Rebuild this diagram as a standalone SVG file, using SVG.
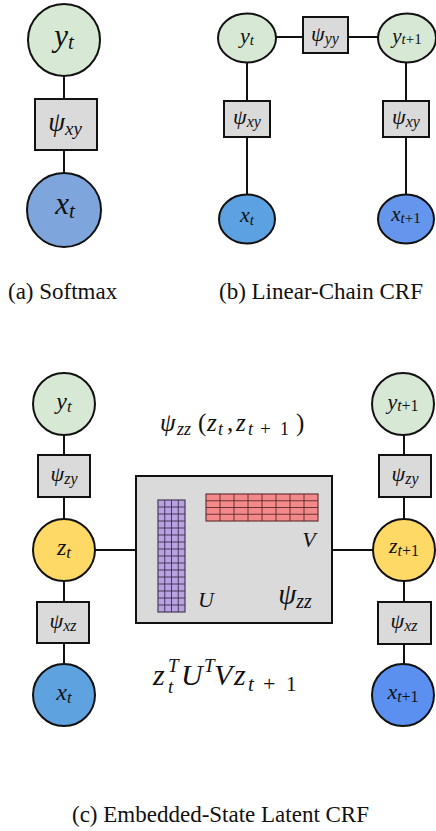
<svg xmlns="http://www.w3.org/2000/svg" width="436" height="831" viewBox="0 0 436 831">
  <style>
    .node { stroke: #111; stroke-width: 2; }
    .factor { fill: #dadada; stroke: #111; stroke-width: 2; }
    .edge { stroke: #111; stroke-width: 2; fill: none; }
    .y { fill: #d7e9d4; }
    .z { fill: #ffd966; }
    .math { font-family: "Liberation Serif", "DejaVu Serif", serif; font-style: italic; fill: #111; text-anchor: middle; }
    .ml { font-family: "Liberation Serif", "DejaVu Serif", serif; font-style: italic; fill: #111; }
    .rm { font-style: normal; }
    .cap { font-family: "Liberation Serif", "Times New Roman", serif; font-size: 23px; fill: #111; }
    .gridU { stroke: #3a2d4a; stroke-width: 0.9; }
    .gridV { stroke: #5a2a2a; stroke-width: 0.9; }
  </style>

  <!-- connectors -->
  <g id="edges">
    <!-- (a) softmax -->
    <line class="edge" x1="64" y1="76" x2="64" y2="99"/>
    <line class="edge" x1="64" y1="150" x2="64" y2="173"/>
    <!-- (b) linear-chain CRF -->
    <line class="edge" x1="276" y1="37" x2="303" y2="37"/>
    <line class="edge" x1="348" y1="37" x2="378" y2="37"/>
    <line class="edge" x1="247" y1="62" x2="247" y2="101"/>
    <line class="edge" x1="247" y1="137" x2="247" y2="195"/>
    <line class="edge" x1="406" y1="62" x2="406" y2="101"/>
    <line class="edge" x1="406" y1="137" x2="406" y2="195"/>
    <!-- (c) embedded-state latent CRF -->
    <line class="edge" x1="64" y1="435" x2="64" y2="455"/>
    <line class="edge" x1="64" y1="497" x2="64" y2="519"/>
    <line class="edge" x1="64" y1="581" x2="64" y2="602"/>
    <line class="edge" x1="64" y1="643" x2="64" y2="664"/>
    <line class="edge" x1="95" y1="550" x2="136" y2="550"/>
    <line class="edge" x1="332" y1="550" x2="373" y2="550"/>
    <line class="edge" x1="404" y1="435" x2="404" y2="455"/>
    <line class="edge" x1="404" y1="497" x2="404" y2="519"/>
    <line class="edge" x1="404" y1="581" x2="404" y2="602"/>
    <line class="edge" x1="404" y1="644" x2="404" y2="664"/>
  </g>

  <!-- (a) Softmax -->
  <g id="a-yt">
    <circle class="node y" cx="64" cy="40" r="36"/>
    <text class="math" x="64" y="46" font-size="31">y<tspan font-size="21" dy="3">t</tspan></text>
  </g>
  <g id="a-psi-xy">
    <rect class="factor" x="35" y="99" width="62" height="51"/>
    <text class="math" x="65" y="131" font-size="27">ψ<tspan font-size="19" dy="4">xy</tspan></text>
  </g>
  <g id="a-xt">
    <circle class="node" fill="#7ea6dc" cx="64" cy="210" r="37"/>
    <text class="math" x="65" y="214" font-size="31">x<tspan font-size="21" dy="4">t</tspan></text>
  </g>

  <!-- (b) Linear-Chain CRF -->
  <g id="b-yt">
    <ellipse class="node y" cx="247" cy="38" rx="29" ry="24.5"/>
    <text class="math" x="247" y="43" font-size="22">y<tspan font-size="15" dy="2">t</tspan></text>
  </g>
  <g id="b-psi-yy">
    <rect class="factor" x="303" y="17" width="45" height="36"/>
    <text class="math" x="325" y="41" font-size="22">ψ<tspan font-size="16" dy="3">yy</tspan></text>
  </g>
  <g id="b-yt1">
    <ellipse class="node y" cx="407" cy="38" rx="29" ry="24.5"/>
    <text class="math" x="407" y="43" font-size="21">y<tspan font-size="15" dy="1">t<tspan class="rm">+1</tspan></tspan></text>
  </g>
  <g id="b-psi-xy-t">
    <rect class="factor" x="224" y="101" width="46" height="36"/>
    <text class="math" x="247" y="124" font-size="22">ψ<tspan font-size="16" dy="3">xy</tspan></text>
  </g>
  <g id="b-psi-xy-t1">
    <rect class="factor" x="383" y="101" width="46" height="36"/>
    <text class="math" x="406" y="124" font-size="22">ψ<tspan font-size="16" dy="3">xy</tspan></text>
  </g>
  <g id="b-xt">
    <ellipse class="node" fill="#5ca2e2" cx="247" cy="219" rx="28" ry="24.5"/>
    <text class="math" x="247" y="222" font-size="22">x<tspan font-size="15" dy="3">t</tspan></text>
  </g>
  <g id="b-xt1">
    <ellipse class="node" fill="#6496ee" cx="406" cy="219" rx="28" ry="24.5"/>
    <text class="math" x="406" y="221" font-size="21">x<tspan font-size="15" dy="2">t<tspan class="rm">+1</tspan></tspan></text>
  </g>

  <!-- captions -->
  <text class="cap" x="8" y="299">(a) Softmax</text>
  <text class="cap" x="219" y="299">(b) Linear-Chain CRF</text>
  <text class="cap" x="72" y="822">(c) Embedded-State Latent CRF</text>

  <!-- (c) Embedded-State Latent CRF: left column -->
  <g id="c-yt">
    <circle class="node y" cx="64" cy="404" r="31"/>
    <text class="math" x="64" y="409" font-size="24">y<tspan font-size="17" dy="3">t</tspan></text>
  </g>
  <g id="c-psi-zy-t">
    <rect class="factor" x="38" y="455" width="52" height="42"/>
    <text class="math" x="64" y="481" font-size="22">ψ<tspan font-size="16" dy="3">zy</tspan></text>
  </g>
  <g id="c-zt">
    <circle class="node z" cx="64" cy="550" r="31"/>
    <text class="math" x="64" y="555" font-size="24">z<tspan font-size="17" dy="3">t</tspan></text>
  </g>
  <g id="c-psi-xz-t">
    <rect class="factor" x="37" y="602" width="52" height="41"/>
    <text class="math" x="63" y="628" font-size="22">ψ<tspan font-size="16" dy="3">xz</tspan></text>
  </g>
  <g id="c-xt">
    <circle class="node" fill="#5ea2e0" cx="64" cy="695" r="31"/>
    <text class="math" x="64" y="700" font-size="24">x<tspan font-size="17" dy="3">t</tspan></text>
  </g>

  <!-- (c) right column -->
  <g id="c-yt1">
    <circle class="node y" cx="403" cy="404" r="31"/>
    <text class="math" x="403" y="409" font-size="22">y<tspan font-size="16" dy="2">t<tspan class="rm">+1</tspan></tspan></text>
  </g>
  <g id="c-psi-zy-t1">
    <rect class="factor" x="379" y="455" width="52" height="42"/>
    <text class="math" x="405" y="481" font-size="22">ψ<tspan font-size="16" dy="3">zy</tspan></text>
  </g>
  <g id="c-zt1">
    <circle class="node z" cx="404" cy="550" r="31"/>
    <text class="math" x="404" y="553" font-size="22">z<tspan font-size="16" dy="3">t<tspan class="rm">+1</tspan></tspan></text>
  </g>
  <g id="c-psi-xz-t1">
    <rect class="factor" x="378" y="602" width="53" height="42"/>
    <text class="math" x="404" y="628" font-size="22">ψ<tspan font-size="16" dy="3">xz</tspan></text>
  </g>
  <g id="c-xt1">
    <circle class="node" fill="#5b8ff0" cx="403" cy="695" r="31"/>
    <text class="math" x="403" y="699" font-size="22">x<tspan font-size="16" dy="3">t<tspan class="rm">+1</tspan></tspan></text>
  </g>

  <!-- (c) pairwise factor ψzz with low-rank matrices U and V -->
  <g id="c-psi-zz">
    <!-- heading ψzz(zt, zt+1), set piece by piece -->
    <g id="c-psi-zz-title">
      <text class="ml" x="160" y="431" font-size="25">ψ</text>
      <text class="ml" x="177" y="435" font-size="18">zz</text>
      <text class="ml rm" x="198" y="431" font-size="25">(</text>
      <text class="ml" x="207" y="431" font-size="25">z</text>
      <text class="ml" x="218" y="435" font-size="18">t</text>
      <text class="ml rm" x="227" y="431" font-size="25">,</text>
      <text class="ml" x="236" y="431" font-size="25">z</text>
      <text class="ml" x="248" y="435" font-size="18">t</text>
      <text class="ml rm" x="260" y="435" font-size="19">+</text>
      <text class="ml rm" x="280" y="435" font-size="18">1</text>
      <text class="ml rm" x="296" y="431" font-size="25">)</text>
    </g>
    <rect class="factor" x="136" y="476" width="196" height="147"/>

    <!-- U: 4 x 16 grid -->
    <g id="matrix-U">
      <rect x="158" y="500" width="27" height="112" fill="#b9a2e2" stroke="#4a3a5a" stroke-width="1.2"/>
      <path class="gridU" d="M164.75 500V612M171.5 500V612M178.25 500V612
        M158 507H185M158 514H185M158 521H185M158 528H185M158 535H185M158 542H185M158 549H185
        M158 556H185M158 563H185M158 570H185M158 577H185M158 584H185M158 591H185M158 598H185M158 605H185"/>
    </g>
    <!-- V: 8 x 4 grid -->
    <g id="matrix-V">
      <rect x="206" y="494" width="112" height="27" fill="#f4898c" stroke="#6a3434" stroke-width="1.2"/>
      <path class="gridV" d="M220 494V521M234 494V521M248 494V521M262 494V521M276 494V521M290 494V521M304 494V521
        M206 500.75H318M206 507.5H318M206 514.25H318"/>
    </g>
    <text class="math" x="309" y="547" font-size="22">V</text>
    <text class="math" x="206" y="607" font-size="22">U</text>
    <text class="math" x="295" y="604" font-size="29">ψ<tspan font-size="20" dy="4">zz</tspan></text>
  </g>

  <!-- bilinear form zt^T U^T V zt+1 -->
  <g id="c-formula">
    <text class="ml" x="153" y="685" font-size="30">z</text>
    <text class="ml" x="168" y="672" font-size="19">T</text>
    <text class="ml" x="168" y="693" font-size="19">t</text>
    <text class="ml" x="181" y="685" font-size="30">U</text>
    <text class="ml" x="204" y="672" font-size="19">T</text>
    <text class="ml" x="214" y="685" font-size="30">V</text>
    <text class="ml" x="234" y="685" font-size="30">z</text>
    <text class="ml" x="248" y="691" font-size="21">t</text>
    <text class="ml rm" x="263" y="691" font-size="22">+</text>
    <text class="ml rm" x="286" y="691" font-size="21">1</text>
  </g>
</svg>
